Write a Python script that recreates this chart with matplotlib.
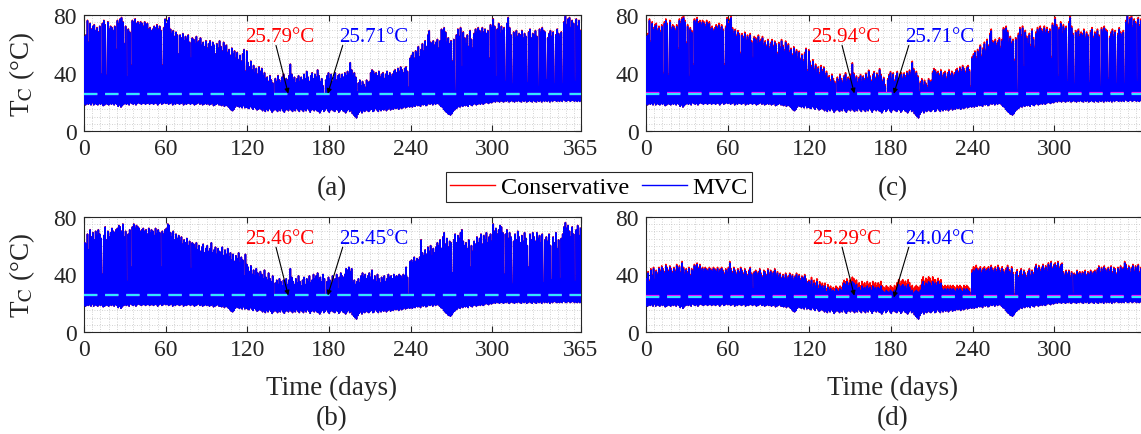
import numpy as np
import matplotlib
matplotlib.use("Agg")
import matplotlib.pyplot as plt
from matplotlib.ticker import MultipleLocator, FixedLocator
from matplotlib.lines import Line2D

plt.rcParams['font.family'] = ['Liberation Serif', 'DejaVu Serif']
plt.rcParams['mathtext.fontset'] = 'stix'

# ---------------------------------------------------------------------------
# Daily cell-temperature data (°C), one value per day of the year
# ---------------------------------------------------------------------------
days = np.arange(365)
month_len = [31, 28, 31, 30, 31, 30, 31, 31, 30, 31, 30, 31]

# nightly minimum, common to all cases
t_min = np.array([
    19, 18, 19, 18.5, 19, 18, 19.5, 18, 19, 18.5,
    18, 19, 18.5, 19, 17.5, 18, 19, 18.5, 18, 19,
    18.5, 19, 18, 19, 18.5, 17, 18, 16.5, 17.5, 18.5,
    19, 18.5, 19, 18, 19.5, 19, 18.5, 19, 18, 19,
    19.5, 19, 18.5, 19, 19.5, 18.5, 19, 19.5, 18.5, 19,
    19, 18.5, 19.5, 19, 18, 19, 19.5, 18.5, 19, 19.5,
    19, 19.5, 18.5, 19, 19.5, 18, 19, 18.5, 19.5, 19,
    18.5, 19, 19.5, 18, 19, 18.5, 19, 19.5, 18.5, 19,
    19, 18, 18.5, 19, 19.5, 18.5, 19, 18, 18.5, 19,
    18.5, 19, 18, 18.5, 19, 17.5, 18, 18.5, 19, 18,
    18, 17.5, 18.5, 17, 18, 17.5, 16.5, 15.5, 14.5, 14,
    15, 16.5, 17.5, 17, 16.5, 17, 16, 17.5, 16, 16.5,
    16, 15.5, 17, 16, 15, 16.5, 15.5, 14.5, 15, 16,
    15, 14, 15.5, 13.5, 15, 14, 15.5, 14.5, 13, 14,
    15, 14.5, 13.5, 15, 14, 15.5, 14, 13, 14.5, 15,
    14, 15.5, 14.5, 13.5, 15, 14, 15.5, 14.5, 13.5, 15,
    14.5, 13.5, 15, 14, 15.5, 14.5, 13, 14.5, 15, 14,
    15, 14, 13.5, 12.5, 14, 15, 13.5, 14.5, 15.5, 14,
    13, 14.5, 15, 14, 13.5, 15, 14.5, 13, 14, 15,
    14, 13.5, 12.5, 14, 15, 13.5, 14.5, 12, 11, 10,
    9, 11.5, 13, 14, 12.5, 14, 13.5, 15, 14, 13.5,
    14.5, 15, 13.5, 14, 15.5, 14.5, 13.5, 15, 14, 15,
    14.5, 15.5, 14, 15, 16, 14.5, 15.5, 15, 16, 15.5,
    16, 15, 16.5, 15.5, 16, 17, 16, 16.5, 17, 16.5,
    17, 16.5, 17.5, 17, 18, 17.5, 18, 17, 18.5, 18,
    18.5, 17.5, 18, 19, 18.5, 19, 18, 19.5, 18.5, 19,
    19, 18, 17, 16.5, 15, 14, 13, 12, 11.5, 11,
    12, 13.5, 14.5, 15.5, 16, 17, 16.5, 17.5, 17, 18,
    17.5, 18, 17, 18.5, 18, 17.5, 18.5, 19, 18, 18.5,
    19, 18.5, 19.5, 18.5, 19, 20, 19.5, 19, 20, 19.5,
    20, 20.5, 20, 21, 20.5, 20, 21, 20.5, 20, 21,
    20.5, 21, 20, 20.5, 21, 20.5, 20, 21, 20.5, 21,
    20.5, 20, 21, 20.5, 21, 20, 20.5, 21, 20.5, 20,
    21, 20.5, 20, 21, 20.5, 21, 20, 21.5, 20.5, 21,
    20.5, 21, 20, 21, 20.5, 21.5, 21, 20.5, 21, 20.5,
    21, 20.5, 21.5, 21, 20.5, 21, 21.5, 20.5, 21, 21.5,
    20.5, 21, 20.5, 21, 20.5,
])

# daily maximum with MVC, cases (a) and (c)
peak_mvc_ac = np.array([
    65, 66, 76, 61, 74, 70, 72, 73, 69, 71,
    68, 72, 39, 74, 76, 73, 38, 75, 70, 72,
    71, 69, 72, 56, 76, 74, 77, 78, 75, 60,
    72, 37, 70, 68, 45, 76, 75, 77, 74, 75,
    73, 75, 74, 72, 75, 73, 74, 70, 71, 69,
    70, 72, 71, 73, 70, 72, 69, 45, 71, 77,
    74, 76, 78, 70, 67, 69, 65, 68, 66, 53,
    66, 64, 67, 62, 65, 63, 66, 61, 50, 64,
    63, 60, 65, 61, 62, 64, 59, 61, 58, 62,
    57, 60, 62, 58, 61, 59, 53, 60, 57, 62,
    58, 55, 61, 57, 59, 54, 56, 52, 57, 53,
    55, 50, 54, 49, 52, 48, 53, 56, 41, 55,
    47, 44, 48, 42, 45, 40, 43, 39, 44, 41,
    43, 38, 40, 36, 37, 34, 38, 35, 33, 25,
    36, 34, 38, 35, 33, 37, 39, 34, 36, 35,
    38, 46, 39, 35, 37, 33, 36, 38, 34, 37,
    35, 39, 36, 41, 37, 34, 38, 40, 36, 39,
    37, 42, 38, 34, 36, 31, 24, 35, 38, 40,
    36, 39, 34, 37, 40, 35, 38, 39, 36, 39,
    37, 40, 38, 41, 39, 47, 42, 38, 40, 37,
    27, 33, 35, 31, 34, 32, 30, 35, 33, 34,
    40, 42, 41, 39, 40, 38, 41, 37, 39, 40,
    36, 39, 41, 38, 40, 37, 39, 41, 42, 40,
    43, 41, 44, 42, 40, 43, 44, 41, 30, 50,
    52, 54, 50, 55, 53, 58, 51, 56, 60, 55,
    62, 58, 66, 69, 61, 60, 62, 59, 61, 63,
    57, 62, 70, 69, 71, 68, 61, 64, 60, 62,
    48, 63, 27, 66, 70, 65, 71, 44, 68, 64,
    60, 66, 58, 69, 63, 57, 67, 70, 68, 71,
    69, 67, 71, 68, 70, 67, 69, 50, 73, 71,
    77, 72, 37, 70, 74, 67, 72, 69, 71, 34,
    74, 78, 71, 66, 32, 68, 64, 69, 65, 67,
    66, 69, 64, 67, 65, 33, 68, 70, 64, 67,
    66, 69, 65, 30, 70, 68, 71, 69, 68, 35,
    64, 67, 69, 65, 68, 32, 66, 70, 67, 65,
    68, 32, 75, 79, 73, 77, 78, 71, 76, 74,
    34, 77, 72, 76, 69,
])

# daily maximum with MVC, case (b)
peak_mvc_b = np.array([
    62, 61, 68, 57, 71, 66, 69, 64, 70, 67,
    71, 68, 65, 40, 67, 73, 64, 70, 66, 69,
    72, 70, 69, 71, 72, 74, 73, 70, 75, 66,
    70, 35, 68, 71, 45, 73, 75, 72, 74, 73,
    72, 70, 71, 72, 70, 71, 68, 72, 69, 71,
    70, 67, 72, 68, 71, 69, 45, 70, 68, 71,
    72, 75, 74, 69, 66, 70, 64, 68, 65, 67,
    63, 66, 61, 64, 62, 65, 60, 63, 44, 62,
    61, 58, 62, 57, 60, 56, 59, 61, 55, 58,
    60, 56, 58, 62, 55, 57, 59, 54, 58, 56,
    55, 59, 53, 57, 54, 58, 52, 55, 50, 54,
    49, 53, 51, 55, 48, 52, 50, 39, 54, 47,
    45, 42, 46, 40, 43, 39, 44, 41, 38, 42,
    40, 37, 43, 38, 36, 41, 37, 35, 39, 25,
    34, 36, 33, 37, 35, 32, 36, 34, 37, 33,
    36, 44, 38, 35, 33, 37, 34, 39, 35, 32,
    36, 38, 33, 37, 35, 39, 34, 36, 40, 37,
    39, 41, 36, 38, 35, 40, 37, 25, 35, 38,
    36, 33, 39, 35, 37, 40, 30, 38, 41, 39,
    38, 40, 44, 43, 45, 42, 44, 34, 36, 33,
    35, 37, 34, 39, 41, 38, 40, 37, 39, 41,
    38, 43, 36, 39, 35, 40, 37, 34, 38, 36,
    39, 35, 37, 40, 38, 39, 37, 40, 38, 39,
    38, 40, 39, 37, 40, 39, 45, 38, 26, 49,
    50, 48, 52, 49, 51, 50, 52, 64, 55, 53,
    57, 54, 59, 56, 60, 53, 58, 55, 59, 62,
    60, 64, 58, 66, 69, 61, 65, 59, 63, 62,
    41, 64, 68, 62, 67, 65, 69, 71, 63, 60,
    62, 58, 64, 45, 60, 56, 63, 61, 66, 62,
    65, 68, 61, 67, 64, 69, 62, 66, 68, 63,
    75, 70, 72, 68, 71, 74, 73, 69, 40, 68,
    71, 65, 69, 66, 33, 63, 68, 64, 70, 66,
    62, 67, 63, 69, 65, 60, 45, 68, 64, 69,
    66, 63, 69, 65, 67, 62, 68, 34, 64, 66,
    63, 68, 60, 36, 66, 62, 69, 58, 64, 37,
    65, 68, 73, 76, 72, 74, 70, 66, 73, 68,
    35, 71, 74, 67, 72,
])

# daily maximum with MVC, case (d)
peak_mvc_d = np.array([
    37, 41, 35, 43, 39, 44, 36, 42, 40, 44,
    42, 45, 43, 41, 46, 44, 42, 45, 43, 41,
    44, 42, 46, 43, 45, 41, 48, 44, 40, 43,
    41, 44, 39, 43, 42, 46, 45, 47, 44, 46,
    43, 44, 42, 44, 43, 42, 44, 43, 42, 44,
    43, 42, 44, 41, 43, 44, 42, 40, 43, 41,
    44, 48, 43, 41, 44, 42, 40, 43, 41, 44,
    42, 40, 43, 41, 39, 42, 44, 40, 30, 41,
    42, 39, 41, 43, 40, 38, 42, 41, 39, 43,
    40, 42, 38, 41, 43, 39, 41, 38, 40, 37,
    39, 37, 40, 36, 38, 40, 37, 39, 36, 38,
    40, 37, 39, 36, 38, 37, 39, 36, 34, 35,
    33, 36, 31, 34, 32, 35, 30, 33, 31, 32,
    30, 32, 28, 31, 29, 30, 28, 29, 28, 30,
    29, 28, 30, 29, 32, 34, 33, 35, 32, 34,
    33, 35, 34, 32, 33, 30, 31, 29, 32, 30,
    31, 29, 32, 30, 31, 29, 32, 30, 31, 29,
    31, 30, 32, 29, 28, 27, 29, 28, 27, 29,
    28, 27, 29, 28, 31, 33, 30, 32, 33, 31,
    32, 30, 33, 31, 28, 29, 27, 28, 29, 28,
    27, 29, 33, 35, 32, 34, 33, 35, 34, 32,
    35, 33, 34, 32, 35, 33, 34, 30, 29, 30,
    29, 30, 28, 30, 29, 30, 29, 28, 30, 29,
    30, 29, 28, 30, 29, 30, 29, 28, 25, 41,
    43, 42, 44, 43, 42, 44, 41, 43, 44, 42,
    43, 44, 42, 45, 43, 41, 44, 42, 45, 43,
    41, 44, 42, 40, 43, 45, 42, 41, 44, 40,
    25, 40, 42, 38, 41, 43, 39, 42, 40, 38,
    41, 43, 39, 42, 40, 44, 46, 43, 45, 42,
    44, 46, 43, 45, 42, 47, 45, 48, 44, 46,
    47, 45, 48, 44, 46, 47, 41, 39, 42, 40,
    42, 38, 41, 26, 40, 39, 42, 40, 41, 39,
    41, 40, 42, 39, 41, 40, 42, 39, 41, 42,
    40, 43, 45, 41, 44, 42, 45, 43, 41, 44,
    42, 45, 41, 44, 43, 40, 44, 42, 45, 43,
    44, 48, 46, 43, 45, 41, 44, 46, 42, 45,
    43, 46, 41, 44, 42,
])

# monthly excess of the conservative daily maximum over MVC (°C)
cons_excess_a = [0.4, 0.4, 0.3, 0.3, 0.3, 0.2, 0.2, 0.3, 0.3, 0.4, 0.4, 0.4]
cons_excess_b = [0.2, 0.2, 0.2, 0.1, 0.1, 0.1, 0.1, 0.1, 0.2, 0.2, 0.2, 0.2]
cons_excess_c = [1.3, 1.3, 1.2, 1.1, 1.2, 1.0, 1.1, 1.2, 1.3, 1.4, 1.3, 1.3]
cons_excess_d = [1.0, 1.0, 1.0, 1.0, 2.0, 3.2, 3.4, 2.4, 1.4, 1.1, 1.0, 1.0]

# annual mean cell temperatures (°C)
mean_cons = {'a': 25.79, 'b': 25.46, 'c': 25.94, 'd': 25.29}
mean_mvc = {'a': 25.71, 'b': 25.45, 'c': 25.71, 'd': 24.04}

series_labels = ['Conservative', 'MVC']
xticks_full = [0, 60, 120, 180, 240, 300, 365]
xticks_cut = [0, 60, 120, 180, 240, 300]
yticks = [0, 40, 80]

# ---------------------------------------------------------------------------
W, H = 1141, 435
fig = plt.figure(figsize=(W / 100, H / 100), dpi=100)
fig.patch.set_facecolor('white')


def px_rect(x0, y0, x1, y1):
    return [x0 / W, 1 - y1 / H, (x1 - x0) / W, (y1 - y0) / H]


def daily_trace(low, high):
    t = np.column_stack([days + 0.15, days + 0.55]).ravel()
    v = np.column_stack([low, high]).ravel()
    return t, v


panels = {
    'a': dict(rect=px_rect(84, 16, 581, 132), peak=peak_mvc_ac, exc=cons_excess_a,
              ticks=xticks_full, ylabel=True, tips=(150, 179)),
    'c': dict(rect=px_rect(646, 16, 1143, 132), peak=peak_mvc_ac, exc=cons_excess_c,
              ticks=xticks_cut, ylabel=False, tips=(153, 182)),
    'b': dict(rect=px_rect(84, 218, 581, 333), peak=peak_mvc_b, exc=cons_excess_b,
              ticks=xticks_full, ylabel=True, tips=(150, 179)),
    'd': dict(rect=px_rect(646, 218, 1143, 333), peak=peak_mvc_d, exc=cons_excess_d,
              ticks=xticks_cut, ylabel=False, tips=(153, 182)),
}

dark = '#262626'
for key, p in panels.items():
    ax = fig.add_axes(p['rect'])
    cons_peak = p['peak'] + np.repeat(p['exc'], month_len)
    t, v_cons = daily_trace(t_min, cons_peak)
    _, v_mvc = daily_trace(t_min, p['peak'])
    ax.plot(t, v_cons, color='#FF0000', lw=1.15, zorder=2)
    ax.plot(t, v_mvc, color='#0000FF', lw=1.15, zorder=3)

    dash = (0, (6, 3.5))
    ax.axhline(mean_cons[key], color='#FF00FF', lw=1.6, ls=dash, zorder=4)
    ax.axhline(mean_mvc[key], color='#33E6FF', lw=1.6, ls=dash, zorder=5)

    tip_r, tip_b = p['tips']
    ax.text(tip_r - 6, 65, f'{mean_cons[key]:.2f}°C', color='#FF0000', fontsize=15,
            ha='center', va='center', zorder=6)
    ax.text(tip_b + 34, 65, f'{mean_mvc[key]:.2f}°C', color='#0000FF', fontsize=15,
            ha='center', va='center', zorder=6)
    arrow = dict(arrowstyle='-|>', color='black', lw=0.8, mutation_scale=7,
                 shrinkA=0, shrinkB=0)
    ax.annotate('', xy=(tip_r, mean_cons[key]), xytext=(tip_r - 9, 59),
                arrowprops=arrow, zorder=7)
    ax.annotate('', xy=(tip_b, mean_mvc[key]), xytext=(tip_b + 11, 59),
                arrowprops=arrow, zorder=7)

    ax.set_xlim(0, 365)
    ax.set_ylim(0, 80)
    ax.xaxis.set_major_locator(FixedLocator(p['ticks']))
    ax.yaxis.set_major_locator(FixedLocator(yticks))
    ax.xaxis.set_minor_locator(MultipleLocator(6))
    ax.yaxis.set_minor_locator(MultipleLocator(5))
    ax.tick_params(which='major', direction='in', length=4, width=0.8,
                   top=True, right=True, labelsize=17, colors=dark, pad=5)
    ax.tick_params(which='minor', length=0)
    ax.grid(which='both', ls=(0, (1, 2)), color='#c4c4c4', lw=0.6)
    ax.set_axisbelow(True)
    for s in ax.spines.values():
        s.set_color(dark)
        s.set_linewidth(0.8)
    if p['ylabel']:
        ax.set_ylabel(r'T$_{\rm C}$ (°C)', fontsize=19.5, color=dark)
        ax.yaxis.set_label_coords(-0.095, 0.5)

# axis titles and panel tags
for xc in (332, 893):
    fig.text(xc / W, 1 - 388 / H, 'Time (days)', fontsize=19.5, color=dark,
             ha='center', va='center')
fig.text(332 / W, 1 - 189 / H, '(a)', fontsize=19.5, color=dark, ha='center', va='center')
fig.text(893 / W, 1 - 189 / H, '(c)', fontsize=19.5, color=dark, ha='center', va='center')
fig.text(332 / W, 1 - 419 / H, '(b)', fontsize=19.5, color=dark, ha='center', va='center')
fig.text(893 / W, 1 - 419 / H, '(d)', fontsize=19.5, color=dark, ha='center', va='center')

handles = [Line2D([], [], color='#FF0000', lw=1.0), Line2D([], [], color='#0000FF', lw=1.0)]
leg = fig.legend(handles, series_labels, loc='center', ncol=2,
                 bbox_to_anchor=(599 / W, 1 - 188 / H), fontsize=17.5,
                 frameon=True, fancybox=False, edgecolor=dark, framealpha=1,
                 borderpad=0.15, handlelength=1.85, handletextpad=0.25,
                 columnspacing=0.5, borderaxespad=0)
leg.get_frame().set_linewidth(0.8)

fig.savefig('out.png', dpi=100, facecolor='white')
